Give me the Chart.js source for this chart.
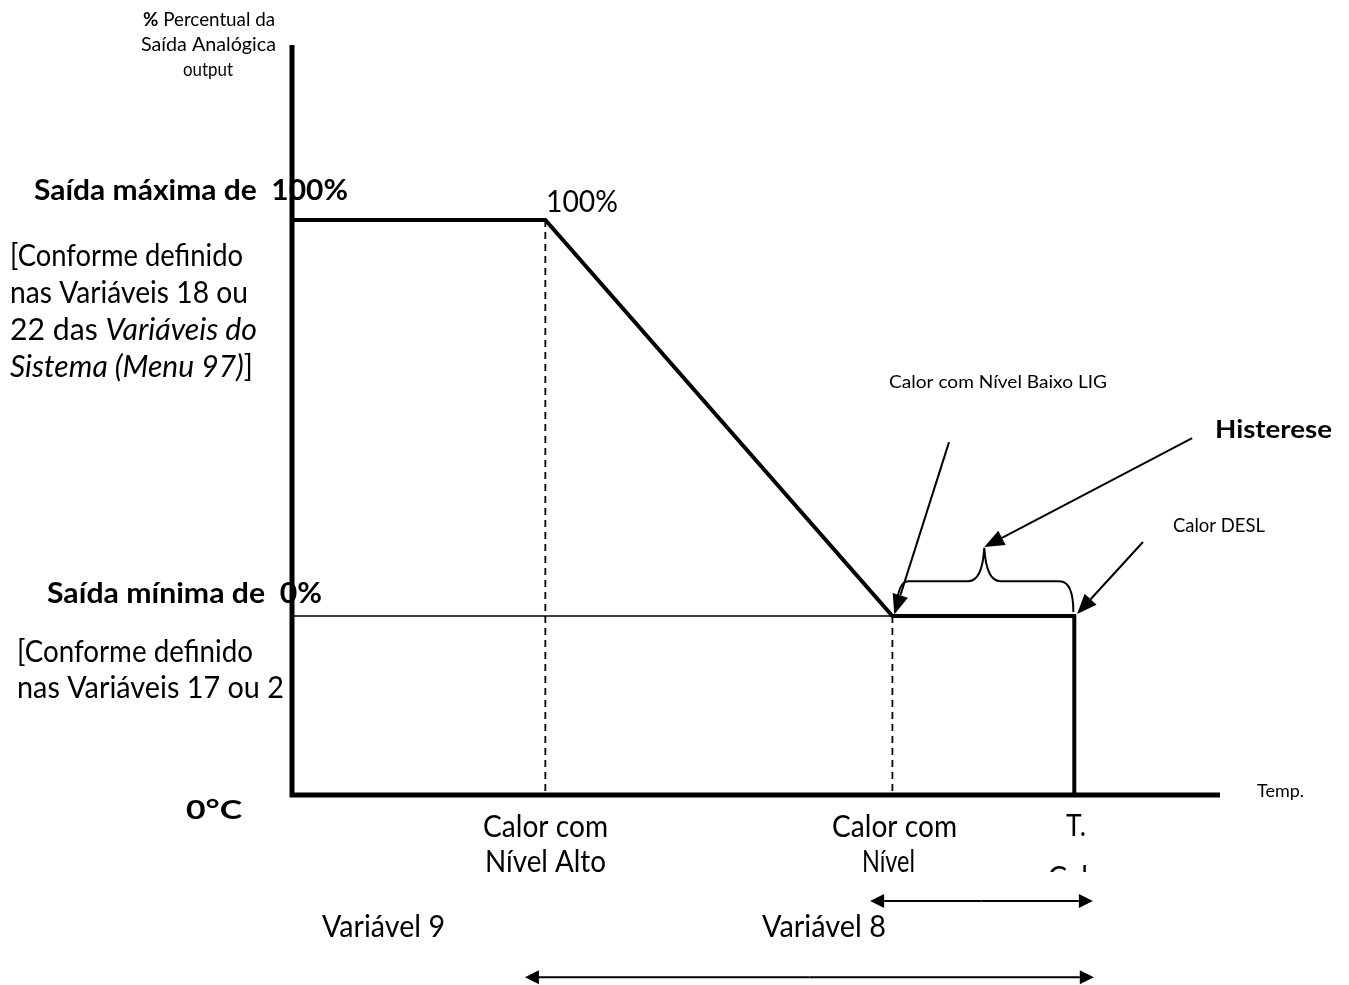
<!DOCTYPE html>
<html>
<head>
<meta charset="utf-8">
<script src="https://cdn.jsdelivr.net/npm/chart.js@4.4.1/dist/chart.umd.min.js"></script>
<style>
  html, body { margin: 0; padding: 0; background: #fff; overflow: hidden; }
  #wrap { width: 1349px; height: 985px; }
</style>
</head>
<body>
<div id="wrap"><canvas id="grafico"></canvas></div>
<script>
// temperatura (unidades arbitrarias: 0 = eixo y, 100 = fim do eixo x)
const tempPts = [0, 27.3, 64.7, 84.3, 84.3];
// saida analogica em %, BASE = linha de 0°C abaixo do nivel 0%
const BASE = -45.2;
const TOPO = 144.2;
const saidaPts = [100, 100, 0, 0, BASE];
// linhas tracejadas (Nivel Alto, Nivel Baixo)
const guiaX = [27.3, 64.7];
const guiaTopo = [100, 0];

// setas e chave (em unidades dos eixos)
const setaLig = [70.8, 43.9, 64.9, 0.4];
const setaHist = [97.0, 44.9, 74.6, 17.4];
const setaDesl = [91.7, 18.7, 84.6, 0.5];
const cotaVar8 = [62.3, 86.3, -72];
const cotaVar9 = [25.1, 86.4, -91.2];

const pts = (xs, ys) => xs.map((x, i) => ({ x: x, y: ys[i] }));

const F = (s, w, st) => (st || 'normal') + ' ' + (w || 'normal') + ' ' + s + 'px Lato';

function linha(ctx, runs, x, y, w) {
  let total = 0;
  runs.forEach(r => { ctx.font = r[1]; total += ctx.measureText(r[0]).width; });
  ctx.save();
  ctx.translate(x, y);
  ctx.scale(w / total, 1);
  let cx = 0;
  runs.forEach(r => {
    ctx.font = r[1];
    ctx.fillText(r[0], cx, 0);
    cx += ctx.measureText(r[0]).width;
  });
  ctx.restore();
}

function seta(ctx, x1, y1, x2, y2, len, larg, lw) {
  const a = Math.atan2(y2 - y1, x2 - x1);
  const bx = x2 - len * Math.cos(a), by = y2 - len * Math.sin(a);
  ctx.lineWidth = lw;
  ctx.beginPath();
  ctx.moveTo(x1, y1);
  ctx.lineTo(bx, by);
  ctx.stroke();
  ctx.beginPath();
  ctx.moveTo(x2, y2);
  ctx.lineTo(bx + larg * Math.sin(a), by - larg * Math.cos(a));
  ctx.lineTo(bx - larg * Math.sin(a), by + larg * Math.cos(a));
  ctx.closePath();
  ctx.fill();
}

const anotacoes = {
  id: 'anotacoes',
  afterDraw(chart) {
    const ctx = chart.ctx;
    const sx = chart.scales.x, sy = chart.scales.y;
    const px = v => sx.getPixelForValue(v);
    const py = v => sy.getPixelForValue(v);
    ctx.save();
    ctx.fillStyle = '#000';
    ctx.strokeStyle = '#000';
    ctx.textAlign = 'left';
    ctx.textBaseline = 'alphabetic';

    // setas
    seta(ctx, px(setaLig[0]), py(setaLig[1]), px(setaLig[2]), py(setaLig[3]), 20, 8, 2);
    seta(ctx, px(setaHist[0]), py(setaHist[1]), px(setaHist[2]), py(setaHist[3]), 20, 8, 2);
    seta(ctx, px(setaDesl[0]), py(setaDesl[1]), px(setaDesl[2]), py(setaDesl[3]), 20, 8, 2);

    // chave da histerese
    const Lx = px(65.1), Ly = py(1.8), T = py(8.8);
    const Cx = px(74.6), Cy = py(17.2);
    const Rx = px(84.2), Ry = py(1.0);
    ctx.lineWidth = 2;
    ctx.beginPath();
    ctx.moveTo(Lx, Ly);
    ctx.quadraticCurveTo(Lx + 2, T, Lx + 12, T);
    ctx.lineTo(Cx - 16, T);
    ctx.quadraticCurveTo(Cx - 2, T, Cx, Cy);
    ctx.quadraticCurveTo(Cx + 2, T, Cx + 16, T);
    ctx.lineTo(Rx - 14, T);
    ctx.quadraticCurveTo(Rx, T, Rx, Ry);
    ctx.stroke();

    // cotas (setas duplas)
    [cotaVar8, cotaVar9].forEach(c => {
      const a = px(c[0]), b = px(c[1]), y = py(c[2]);
      const m = (a + b) / 2;
      seta(ctx, m, y, a, y, 14, 7, 2);
      seta(ctx, m, y, b, y, 14, 7, 2);
    });

    // textos
    linha(ctx, [['%', F(19, 'bold')], [' Percentual da', F(19)]], 143, 26, 132);
    linha(ctx, [['Saída Analógica', F(19)]], 141, 51, 135);
    linha(ctx, [['output', F(19)]], 183, 76, 50);

    linha(ctx, [['Saída máxima de  100%', F(29, 'bold')]], 34, 200, 314);
    linha(ctx, [['[Conforme definido', F(30)]], 10, 266, 233);
    linha(ctx, [['nas Variáveis 18 ou', F(30)]], 10, 303, 238);
    linha(ctx, [['22 das ', F(30)], ['Variáveis do', F(30, 'normal', 'italic')]], 10, 340, 247);
    linha(ctx, [['Sistema (Menu 97)', F(30, 'normal', 'italic')], [']', F(30)]], 10, 377, 243);

    linha(ctx, [['100%', F(30)]], 546, 212, 72);

    linha(ctx, [['Calor com Nível Baixo LIG', F(18)]], 889, 388, 218);
    linha(ctx, [['Histerese', F(24, 'bold')]], 1215, 438, 117);
    linha(ctx, [['Calor DESL', F(19)]], 1173, 532, 92);

    linha(ctx, [['Saída mínima de  0%', F(29, 'bold')]], 47, 603, 275);
    linha(ctx, [['[Conforme definido', F(30)]], 17, 662, 236);
    ctx.save();
    ctx.beginPath();
    ctx.rect(0, 660, 289, 60);
    ctx.clip();
    linha(ctx, [['nas Variáveis 17 ou 2', F(30)]], 17, 698, 267);
    ctx.restore();

    linha(ctx, [['0°C', F(27, 'bold')]], 186, 819, 56);
    linha(ctx, [['Temp.', F(18)]], 1257, 797, 47);

    linha(ctx, [['Calor com', F(30)]], 483, 837, 125);
    linha(ctx, [['Nível Alto', F(30)]], 485, 872, 121);
    linha(ctx, [['Calor com', F(30)]], 832, 837, 125);
    linha(ctx, [['Nível', F(30)]], 862, 872, 53);
    linha(ctx, [['T.', F(30)]], 1066, 836, 20);
    ctx.save();
    ctx.beginPath();
    ctx.rect(1030, 850, 80, 22);
    ctx.clip();
    linha(ctx, [['Cal', F(30)]], 1048, 888, 40);
    ctx.restore();

    linha(ctx, [['Variável 9', F(30)]], 322, 937, 123);
    linha(ctx, [['Variável 8', F(30)]], 762, 937, 124);

    ctx.restore();
  }
};

const base = { pointRadius: 0, showLine: true, borderColor: '#000', fill: false, clip: false, tension: 0 };

new Chart(document.getElementById('grafico'), {
  type: 'scatter',
  data: {
    datasets: [
      // eixos
      Object.assign({}, base, { data: pts([0, 0, 100], [TOPO, BASE, BASE]), borderWidth: 5, borderJoinStyle: 'miter' }),
      // saida
      Object.assign({}, base, { data: pts(tempPts, saidaPts), borderWidth: 4, borderJoinStyle: 'miter' }),
      // nivel 0%
      Object.assign({}, base, { data: pts([0, guiaX[1]], [0, 0]), borderWidth: 1.5 }),
      Object.assign({}, base, { data: pts([guiaX[0], guiaX[0]], [guiaTopo[0], BASE]), borderWidth: 1.8, borderDash: [7, 5] }),
      Object.assign({}, base, { data: pts([guiaX[1], guiaX[1]], [guiaTopo[1], BASE]), borderWidth: 1.8, borderDash: [7, 5] })
    ]
  },
  options: {
    responsive: true,
    maintainAspectRatio: false,
    animation: false,
    events: [],
    layout: { padding: { left: 292, right: 129, top: 45, bottom: 190 } },
    scales: {
      x: { type: 'linear', min: 0, max: 100, display: false },
      y: { type: 'linear', min: BASE, max: TOPO, display: false }
    },
    plugins: { legend: { display: false }, tooltip: { enabled: false } }
  },
  plugins: [anotacoes]
});
</script>
</body>
</html>
